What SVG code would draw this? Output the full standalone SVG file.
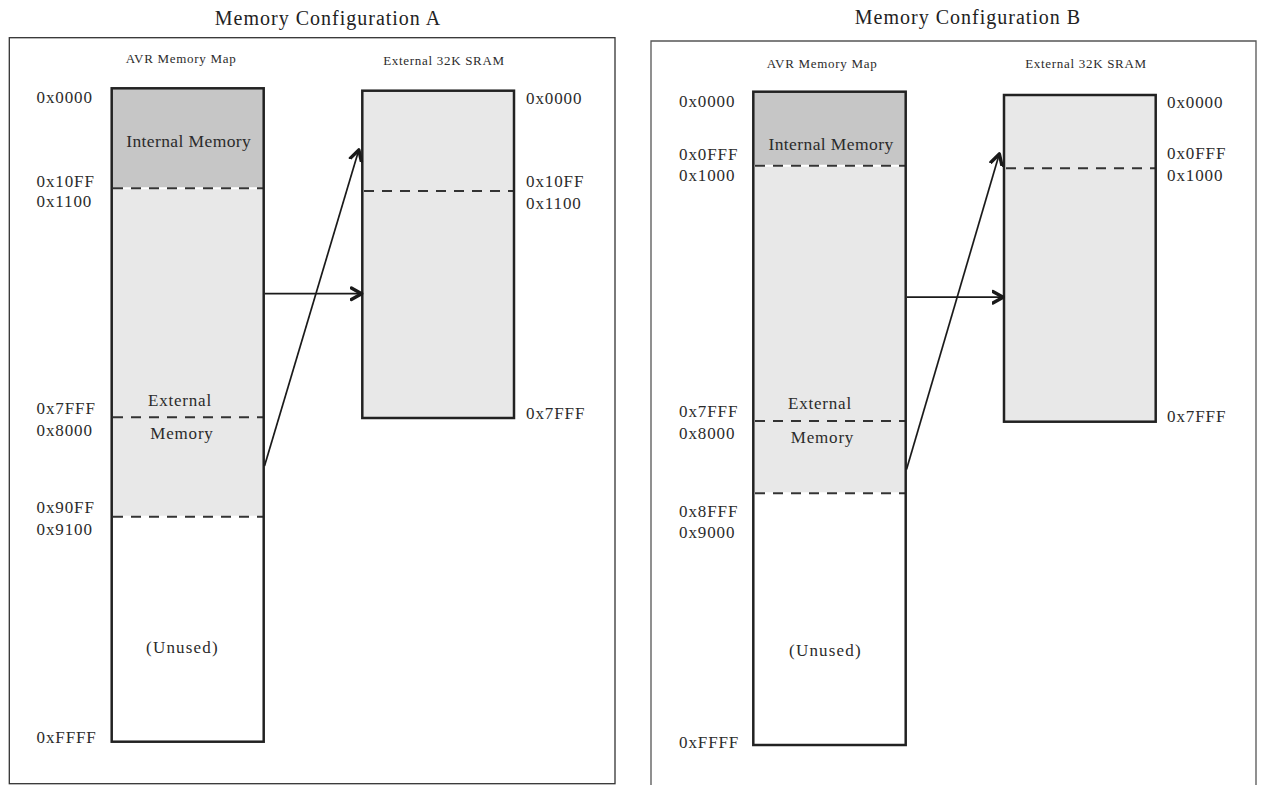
<svg xmlns="http://www.w3.org/2000/svg" width="1262" height="785" viewBox="0 0 1262 785">
<style>
text{font-family:"Liberation Serif","Times New Roman",serif;fill:#2b2b2b}
.title{font-size:20px;letter-spacing:1px;text-anchor:middle;fill:#222}
.hdr{font-size:13px;letter-spacing:0.7px;text-anchor:middle}
.lbl{font-size:17px;letter-spacing:0.9px}
.reg{font-size:17px;letter-spacing:0.8px;text-anchor:middle}
.int{font-size:17.5px;letter-spacing:0.4px;text-anchor:middle}
.frame{fill:none;stroke:#333;stroke-width:1.3}
.box{fill:none;stroke:#222;stroke-width:2.5}
.dark{fill:#c6c6c6}
.light{fill:#e8e8e8}
.dash{stroke:#333;stroke-width:2;stroke-dasharray:10 8;fill:none}
.wline{stroke:#fff;stroke-width:2;fill:none}
.conn{stroke:#1a1a1a;stroke-width:1.7;fill:none}
</style>
<defs>
<marker id="arr" markerUnits="userSpaceOnUse" markerWidth="16" markerHeight="16" refX="9" refY="6" orient="auto" viewBox="0 0 14 12">
<path d="M1,1 L10,6 L1,11" fill="none" stroke="#1a1a1a" stroke-width="3" stroke-linejoin="round" stroke-linecap="round"/>
</marker>
</defs>
<rect width="1262" height="785" fill="#fff"/>

<g id="panel-a">
<text class="title" x="328" y="25">Memory Configuration A</text>
<rect class="frame" x="9.3" y="37.7" width="605.7" height="746"/>
<text class="hdr" x="181" y="63.3">AVR Memory Map</text>
<text class="hdr" x="444" y="65">External 32K SRAM</text>
</g>

<g id="avr-map-a">
<rect class="dark" x="111.7" y="88.3" width="152" height="100"/>
<rect class="light" x="111.7" y="188.3" width="152" height="328.4"/>
<line class="wline" x1="111.7" y1="188.3" x2="263.7" y2="188.3"/>
<line class="dash" x1="113" y1="188.3" x2="263.7" y2="188.3"/>
<line class="dash" x1="113" y1="417.3" x2="263.7" y2="417.3"/>
<line class="wline" x1="111.7" y1="516.7" x2="263.7" y2="516.7"/>
<line class="dash" x1="113" y1="516.7" x2="263.7" y2="516.7"/>
<rect class="box" x="111.7" y="88.3" width="152" height="653.4"/>
<text class="int" x="188.7" y="146.7">Internal Memory</text>
<text class="reg" x="180" y="406">External</text>
<text class="reg" x="182" y="439">Memory</text>
<text class="reg" x="182.5" y="652.7" style="letter-spacing:1.2px">(Unused)</text>
<text class="lbl" x="36.5" y="103">0x0000</text>
<text class="lbl" x="36.5" y="186.7">0x10FF</text>
<text class="lbl" x="36.5" y="207.3">0x1100</text>
<text class="lbl" x="36.5" y="414">0x7FFF</text>
<text class="lbl" x="36.5" y="436">0x8000</text>
<text class="lbl" x="36.5" y="512.7">0x90FF</text>
<text class="lbl" x="36.5" y="535">0x9100</text>
<text class="lbl" x="36.5" y="743">0xFFFF</text>
</g>

<g id="sram-a">
<rect class="light" x="362.3" y="90.7" width="151.7" height="327.3"/>
<line class="dash" x1="364" y1="191" x2="514" y2="191"/>
<rect class="box" x="362.3" y="90.7" width="151.7" height="327.3"/>
<text class="lbl" x="526" y="104">0x0000</text>
<text class="lbl" x="526" y="186.7">0x10FF</text>
<text class="lbl" x="526" y="209">0x1100</text>
<text class="lbl" x="526" y="419">0x7FFF</text>
</g>

<g id="panel-b">
<text class="title" x="968" y="23.5">Memory Configuration B</text>
<path class="frame" d="M651,785 L651,41 L1256,41 L1256,785" style="stroke:#555"/>
<text class="hdr" x="822" y="68">AVR Memory Map</text>
<text class="hdr" x="1086" y="67.7">External 32K SRAM</text>
</g>

<g id="avr-map-b">
<rect class="dark" x="753.3" y="91.7" width="152.4" height="74"/>
<rect class="light" x="753.3" y="165.7" width="152.4" height="327.6"/>
<line class="wline" x1="753.3" y1="165.7" x2="905.7" y2="165.7"/>
<line class="dash" x1="755" y1="165.7" x2="905.7" y2="165.7"/>
<line class="dash" x1="755" y1="421" x2="905.7" y2="421"/>
<line class="wline" x1="753.3" y1="493.3" x2="905.7" y2="493.3"/>
<line class="dash" x1="755" y1="493.3" x2="905.7" y2="493.3"/>
<rect class="box" x="753.3" y="91.7" width="152.4" height="653.3"/>
<text class="int" x="831" y="150">Internal Memory</text>
<text class="reg" x="820" y="409.3">External</text>
<text class="reg" x="822.5" y="442.7">Memory</text>
<text class="reg" x="825.5" y="655.5" style="letter-spacing:1.2px">(Unused)</text>
<text class="lbl" x="679" y="106.7">0x0000</text>
<text class="lbl" x="679" y="160">0x0FFF</text>
<text class="lbl" x="679" y="180.5">0x1000</text>
<text class="lbl" x="679" y="417.3">0x7FFF</text>
<text class="lbl" x="679" y="439.3">0x8000</text>
<text class="lbl" x="679" y="516.7">0x8FFF</text>
<text class="lbl" x="679" y="538.3">0x9000</text>
<text class="lbl" x="679" y="748">0xFFFF</text>
</g>

<g id="sram-b">
<rect class="light" x="1004" y="95" width="151.7" height="326.7"/>
<line class="dash" x1="1006" y1="168.3" x2="1155.7" y2="168.3"/>
<rect class="box" x="1004" y="95" width="151.7" height="326.7"/>
<text class="lbl" x="1167" y="108">0x0000</text>
<text class="lbl" x="1167" y="159">0x0FFF</text>
<text class="lbl" x="1167" y="181">0x1000</text>
<text class="lbl" x="1167" y="421.7">0x7FFF</text>
</g>

<g id="connectors">
<line class="conn" x1="265" y1="293.7" x2="360.5" y2="293.7" marker-end="url(#arr)"/>
<line class="conn" x1="264.5" y1="466" x2="358.5" y2="151" marker-end="url(#arr)"/>
<line class="conn" x1="907" y1="297.2" x2="1002" y2="297.2" marker-end="url(#arr)"/>
<line class="conn" x1="906.5" y1="469.5" x2="999" y2="155" marker-end="url(#arr)"/>
</g>
</svg>
